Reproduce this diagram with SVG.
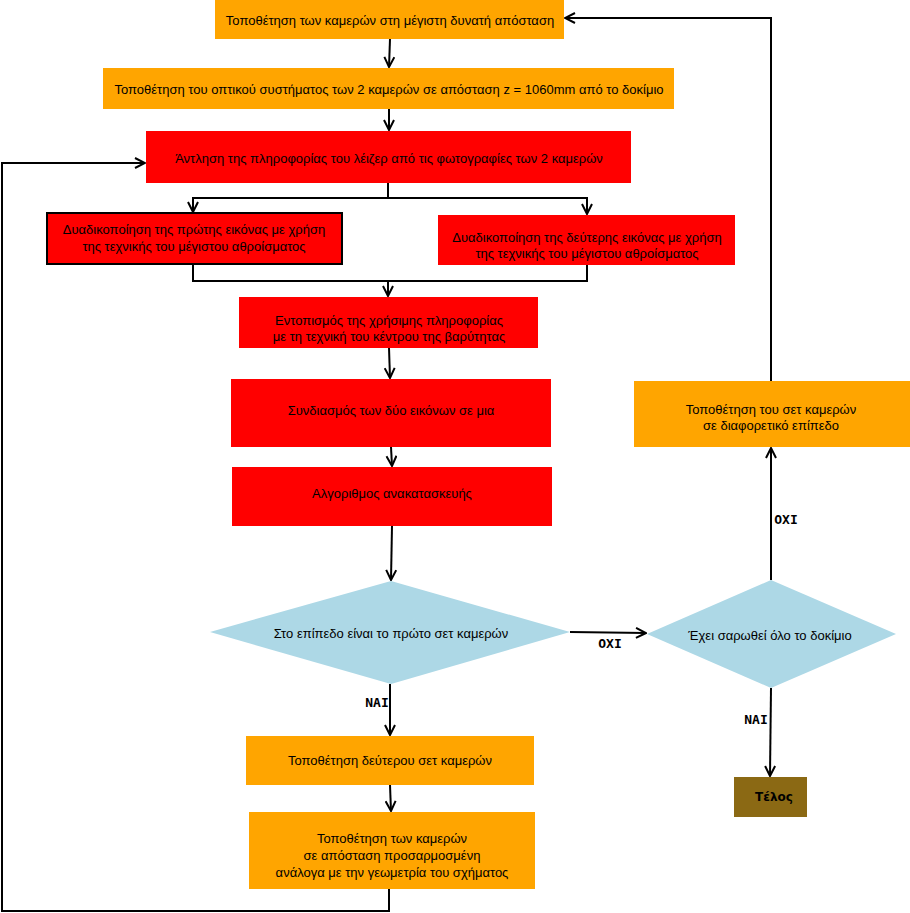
<svg xmlns="http://www.w3.org/2000/svg" width="910" height="913" viewBox="0 0 910 913">
<defs>
<marker id="arr" viewBox="0 0 12 12" refX="11" refY="6" markerWidth="12" markerHeight="12" markerUnits="userSpaceOnUse" orient="auto">
<path d="M1,1 L11,6 L1,11" fill="none" stroke="#000" stroke-width="2"/>
</marker>
<style>
.o{fill:#FFA500}
.r{fill:#FF0000}
.d{fill:#ADD8E6}
.t{font-family:"Liberation Sans",Arial,sans-serif;font-size:13px;fill:#000;text-anchor:middle}
.l{font-family:"DejaVu Sans Mono",monospace;font-size:13px;font-weight:bold;fill:#000;text-anchor:middle}
.e{font-family:"DejaVu Sans",sans-serif;font-size:12px;font-weight:bold;fill:#000;text-anchor:middle}
.c{fill:none;stroke:#000;stroke-width:2}
</style>
</defs>
<rect width="910" height="913" fill="#fff"/>
<g id="n1"><rect class="o" x="215" y="0" width="349" height="39"/><text class="t" x="390" y="25">Τοποθέτηση των καμερών στη μέγιστη δυνατή απόσταση</text></g>
<g id="n2"><rect class="o" x="103" y="68" width="571" height="41"/><text class="t" x="389" y="94">Τοποθέτηση του οπτικού συστήματος των 2 καμερών σε απόσταση z = 1060mm από το δοκίμιο</text></g>
<g id="n3"><rect class="r" x="146" y="131" width="485" height="52"/><text class="t" x="389" y="163">Άντληση της πληροφορίας του λέιζερ από τις φωτογραφίες των 2 καμερών</text></g>
<g id="n4"><rect class="r" x="47" y="213" width="295" height="51" stroke="#000" stroke-width="2"/><text class="t" x="194" y="234">Δυαδικοποίηση της πρώτης εικόνας με χρήση</text><text class="t" x="194" y="251">της τεχνικής του μέγιστου αθροίσματος</text></g>
<g id="n5"><rect class="r" x="438" y="215" width="297" height="50"/><text class="t" x="587" y="242">Δυαδικοποίηση της δεύτερης εικόνας με χρήση</text><text class="t" x="587" y="258">της τεχνικής του μέγιστου αθροίσματος</text></g>
<g id="n6"><rect class="r" x="239" y="297" width="299" height="51"/><text class="t" x="389" y="325">Εντοπισμός της χρήσιμης πληροφορίας</text><text class="t" x="389" y="341">με τη τεχνική του κέντρου της βαρύτητας</text></g>
<g id="n7"><rect class="r" x="231" y="379" width="320" height="68"/><text class="t" x="391" y="415">Συνδιασμός των δύο εικόνων σε μια</text></g>
<g id="n8"><rect class="r" x="232" y="467" width="320" height="59"/><text class="t" x="392" y="498">Αλγοριθμος ανακατασκευής</text></g>
<g id="d1"><polygon class="d" points="210,632 391,581 570,632 391,684"/><text class="t" x="391" y="638">Στο επίπεδο είναι το πρώτο σετ καμερών</text></g>
<g id="d2"><polygon class="d" points="647,634 771,580 896,634 771,688"/><text class="t" x="770" y="640">Έχει σαρωθεί όλο το δοκίμιο</text></g>
<g id="n9"><rect class="o" x="634" y="381" width="276" height="66"/><text class="t" x="771" y="414">Τοποθέτηση του σετ καμερών</text><text class="t" x="771" y="430">σε διαφορετικό επίπεδο</text></g>
<g id="n10"><rect x="734" y="777" width="73" height="40" fill="#8B6914"/><text class="e" x="774" y="801">Τέλος</text></g>
<g id="n11"><rect class="o" x="246" y="736" width="288" height="49"/><text class="t" x="390" y="765">Τοποθέτηση δεύτερου σετ καμερών</text></g>
<g id="n12"><rect class="o" x="249" y="812" width="286" height="77"/><text class="t" x="392" y="843">Τοποθέτηση των καμερών</text><text class="t" x="392" y="860">σε απόσταση προσαρμοσμένη</text><text class="t" x="392" y="877">ανάλογα με την γεωμετρία του σχήματος</text></g>
<g id="connectors">
<path class="c" d="M390,39 L389,67" marker-end="url(#arr)"/>
<path class="c" d="M389,109 L389,130" marker-end="url(#arr)"/>
<path class="c" d="M388,183 L388,198 L193,198 L193,212" marker-end="url(#arr)"/>
<path class="c" d="M388,198 L587,198 L587,214" marker-end="url(#arr)"/>
<path class="c" d="M193,264 L193,281 L587,281 L587,265"/>
<path class="c" d="M388,281 L388,296" marker-end="url(#arr)"/>
<path class="c" d="M389,348 L390,378" marker-end="url(#arr)"/>
<path class="c" d="M391,447 L392,466" marker-end="url(#arr)"/>
<path class="c" d="M392,526 L391,580" marker-end="url(#arr)"/>
<path class="c" d="M390,684 L390,735" marker-end="url(#arr)"/>
<path class="c" d="M570,632 L646,633" marker-end="url(#arr)"/>
<path class="c" d="M771,580 L771,448" marker-end="url(#arr)"/>
<path class="c" d="M771,688 L770,776" marker-end="url(#arr)"/>
<path class="c" d="M771,381 L771,18 L565,18" marker-end="url(#arr)"/>
<path class="c" d="M390,785 L391,811" marker-end="url(#arr)"/>
<path class="c" d="M389,889 L389,911 L2,911 L2,163 L145,163" marker-end="url(#arr)"/>
<text class="l" x="377" y="707">NAI</text>
<text class="l" x="610" y="648">OXI</text>
<text class="l" x="786" y="524">OXI</text>
<text class="l" x="756" y="724">NAI</text>
</g>
</svg>
